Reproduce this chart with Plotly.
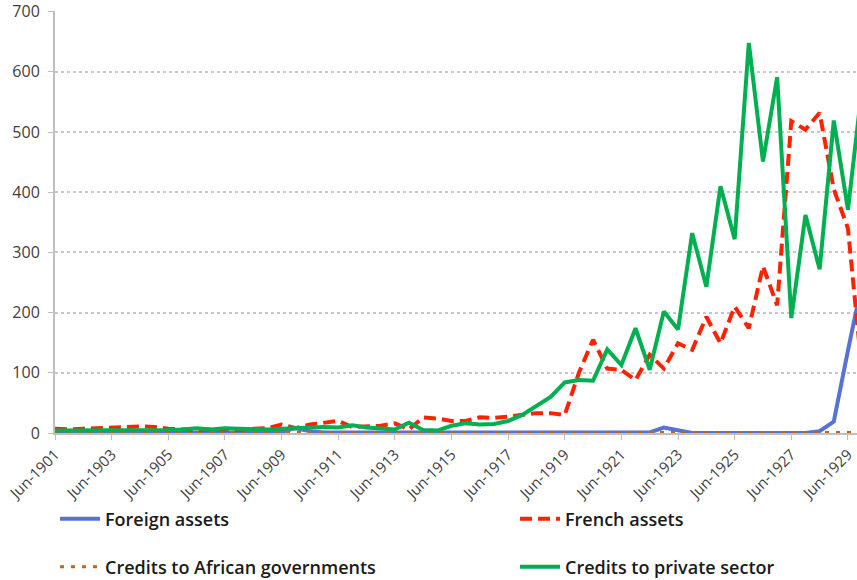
import plotly.graph_objects as go

# ── Data (half-yearly, Jun / Dec) ─────────────────────────────────────────────
periods = [f"{m}-{y}" for y in range(1901, 1930) for m in ("Jun", "Dec")]
tick_labels = [f"Jun-{y}" for y in range(1901, 1930, 2)]

foreign_assets = [
    0, 0, 0, 0, 0, 0, 0, 0, 0, 0,
    0, 0, 0, 0, 0, 1, 2, 8, 3, 1,
    1, 1, 0, 0, 0, 0, 0, 0, 0, 0,
    0, 0, 0, 0, 0, 0, 0, 0, 0, 0,
    0, 0, 1, 9, 4, 0, 0, 0, 0, 0,
    0, 0, 0, 0, 3, 19, 137, 250,
]
french_assets = [
    7, 6, 7, 8, 8, 9, 11, 10, 7, 6,
    5, 6, 6, 5, 7, 8, 14, 8, 14, 17,
    20, 10, 11, 12, 16, 6, 26, 24, 20, 20,
    26, 25, 27, 30, 33, 33, 30, 100, 155, 107,
    105, 88, 130, 107, 149, 138, 193, 149, 210, 174,
    277, 212, 518, 504, 532, 405, 340, 100,
]
credits_african_gov = [
    1, 1, 1, 1, 1, 1, 1, 1, 1, 1,
    1, 1, 1, 1, 1, 1, 1, 1, 2, 2,
    2, 2, 2, 2, 1, 1, 1, 1, 1, 1,
    1, 1, 1, 1, 1, 1, 1, 1, 1, 1,
    1, 1, 1, 1, 1, 1, 1, 1, 1, 1,
    1, 1, 1, 1, 1, 1, 1, 1,
]
credits_private = [
    4, 4, 4, 4, 4, 4, 5, 5, 5, 6,
    8, 6, 8, 7, 6, 6, 7, 8, 9, 10,
    9, 13, 9, 8, 6, 17, 5, 4, 12, 16,
    14, 15, 20, 30, 45, 60, 84, 88, 87, 139,
    113, 174, 105, 202, 172, 332, 243, 410, 322, 648,
    451, 591, 191, 362, 272, 519, 371, 575,
]

FONT = "Open Sans"

fig = go.Figure()

# drawing order: blue, brown, red, green — each series gets its own legend box
fig.add_trace(go.Scatter(
    x=periods, y=foreign_assets, mode="lines", name="Foreign assets",
    line=dict(color="#5673d4", width=4), legend="legend",
))
fig.add_trace(go.Scatter(
    x=periods, y=credits_african_gov, mode="lines",
    name="Credits to African governments",
    line=dict(color="#c0651b", width=3, dash="4px,7px"), legend="legend3",
))
fig.add_trace(go.Scatter(
    x=periods, y=french_assets, mode="lines", name="French assets",
    line=dict(color="#ff2200", width=4, dash="12px,6px"), legend="legend2",
))
fig.add_trace(go.Scatter(
    x=periods, y=credits_private, mode="lines", name="Credits to private sector",
    line=dict(color="#00b050", width=4), legend="legend4",
))


def legend_box(x_px, y_px):
    return dict(
        orientation="h",
        xref="container", yref="container",
        x=x_px / 857, y=1 - y_px / 580,
        xanchor="left", yanchor="middle",
        itemwidth=40,
        font=dict(family=FONT, size=18, color="#1a1a1a", weight=600),
        bgcolor="rgba(0,0,0,0)",
    )


fig.update_layout(
    width=857, height=580,
    margin=dict(l=55, r=0, t=11, b=147, autoexpand=False),
    plot_bgcolor="white", paper_bgcolor="white",
    xaxis=dict(
        type="category",
        range=[0, 56.64],
        tickmode="array", tickvals=tick_labels, ticktext=tick_labels,
        tickangle=-45,
        tickfont=dict(family=FONT, size=15, color="#404040"),
        ticks="outside", ticklen=5, tickcolor="#bfbfbf", tickwidth=1,
        showgrid=False,
        showline=True, linecolor="#bfbfbf", linewidth=2,
        zeroline=False, automargin=False, layer="below traces",
    ),
    yaxis=dict(
        range=[0, 701],
        tickvals=[0, 100, 200, 300, 400, 500, 600, 700],
        tickfont=dict(family=FONT, size=16, color="#404040"),
        ticks="outside", ticklen=5, tickcolor="#bfbfbf",
        ticklabelstandoff=5,
        showgrid=True, gridcolor="#c8c8c8", griddash="dot", gridwidth=1.5,
        showline=True, linecolor="#bfbfbf", linewidth=2,
        zeroline=False, automargin=False, layer="below traces",
    ),
    legend=legend_box(55, 519),
    legend2=legend_box(515, 519),
    legend3=legend_box(55, 567),
    legend4=legend_box(515, 567),
    showlegend=True,
)

# the page body has a default 8px margin; drop it so the figure fills the window
fig.write_html(
    "out.html",
    config={"displayModeBar": False},
    post_script="document.body.style.margin = '0';",
)
